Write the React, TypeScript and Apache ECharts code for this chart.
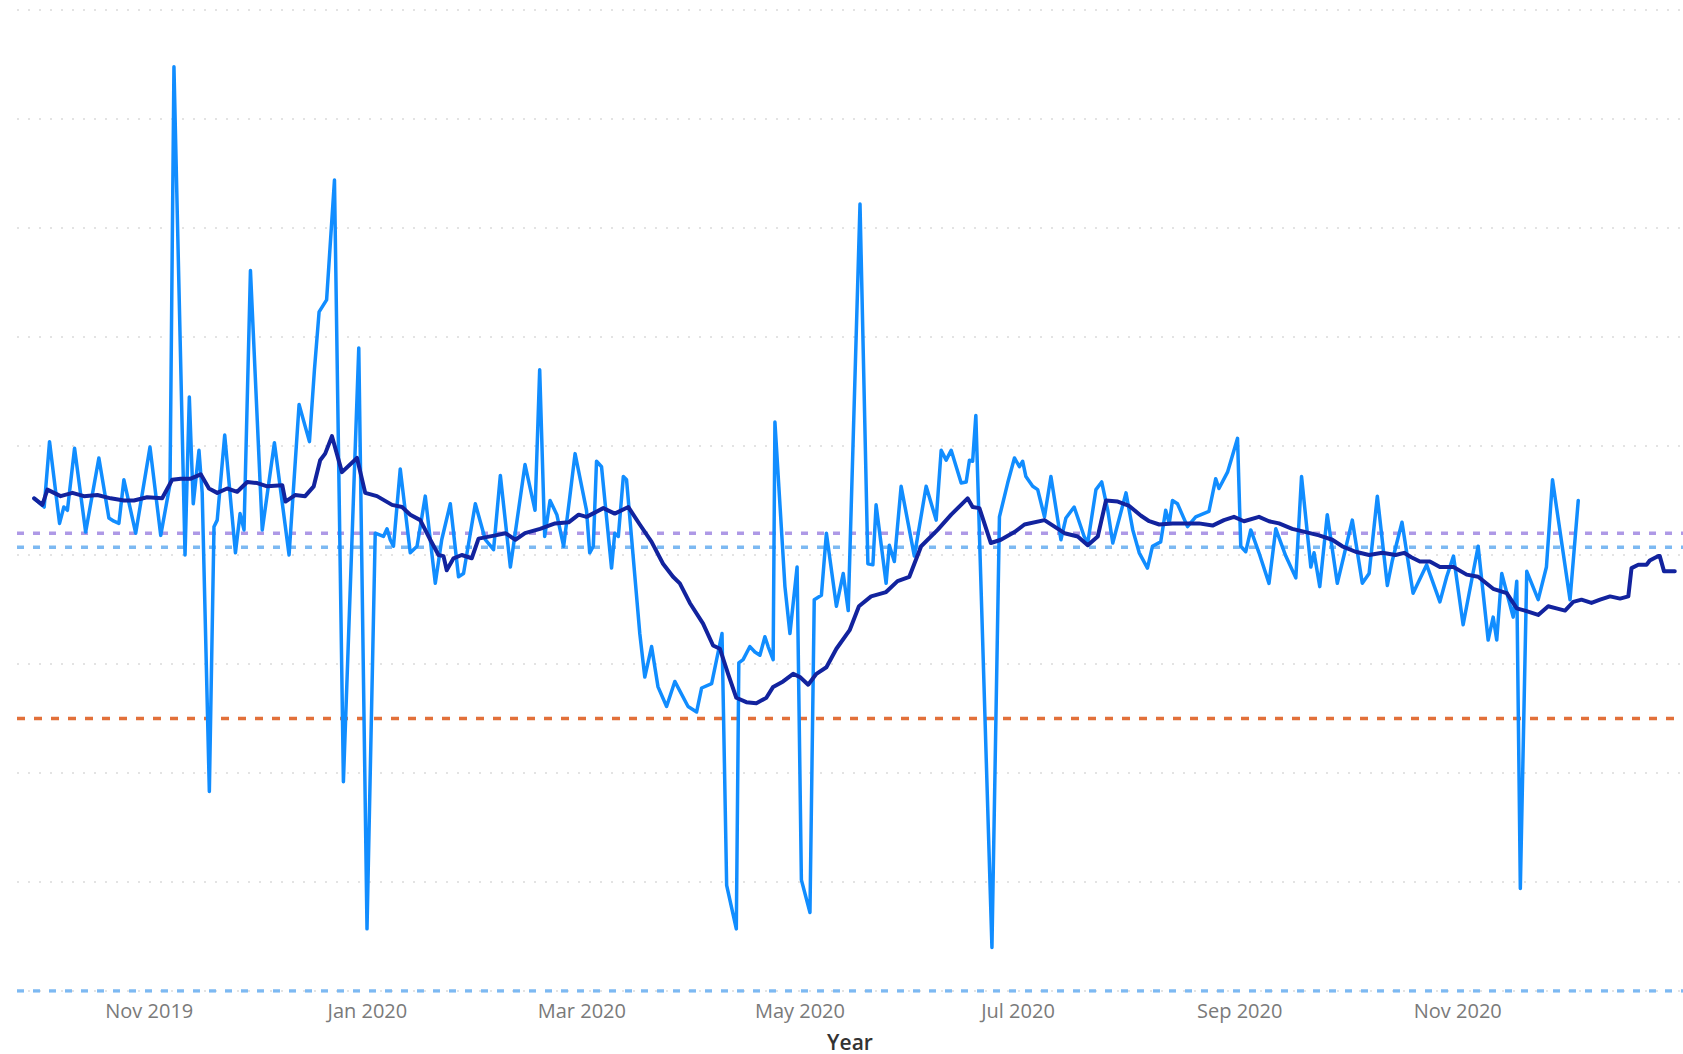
import React, { useEffect, useRef } from 'react';
import * as echarts from 'echarts';

// Day offsets are counted from 1 Oct 2019
const BASE_YEAR = 2019;
const BASE_MONTH = 9; // October (0-based)
const BASE_DAY = 1;

const axisStartDay = -6;
const axisEndDay = 460;

const tickDates = ['2019-11-01', '2020-01-01', '2020-03-01', '2020-05-01', '2020-07-01', '2020-09-01', '2020-11-01'];
const monthNames = ['Jan', 'Feb', 'Mar', 'Apr', 'May', 'Jun', 'Jul', 'Aug', 'Sep', 'Oct', 'Nov', 'Dec'];

const yMin = 0;
const yMax = 90;
const yStep = 10;

// Reference lines: values
const refLineValues = [42.0, 40.7, 25.0, 0];

// Daily series (light blue)
const dailyDays = [
  -1.2, 1.6, 3.1, 5.9, 7.1, 8.1, 10.1, 13.2, 16.9, 19.7, 21.1, 22.5, 23.9, 27.2, 31.2, 34.2, 36.8, 37.9, 41.0, 42.2,
  43.3, 44.9, 45.8, 47.8, 49.1, 50.0, 52.1, 55.1, 56.4, 57.5, 59.3, 62.6, 66.0, 70.1, 72.9, 75.8, 77.2, 78.5, 80.6, 82.8,
  85.3, 89.6, 91.9, 94.2, 96.5, 97.5, 98.4, 99.3, 101.2, 104.0, 105.9, 108.2, 111.0, 112.8, 115.2, 117.5, 118.9, 122.2, 125.0, 127.3,
  129.2, 132.0, 136.1, 138.9, 140.2, 141.6, 143.1, 145.0, 146.9, 148.5, 150.1, 153.3, 154.2, 155.2, 156.1, 157.5, 160.3, 161.2, 162.2, 163.6,
  164.5, 168.2, 169.6, 171.5, 173.3, 175.7, 178.0, 181.7, 184.1, 185.5, 188.3, 191.2, 192.5, 195.2, 195.9, 197.1, 199.0, 200.4, 201.8, 203.2,
  204.1, 205.5, 206.0, 208.8, 210.2, 212.2, 213.4, 215.8, 217.0, 219.0, 220.4, 223.2, 225.1, 226.5, 229.8, 232.0, 233.4, 234.3, 237.1, 238.0,
  239.4, 241.3, 245.0, 248.3, 251.1, 252.5, 253.9, 255.3, 258.1, 259.5, 260.4, 261.3, 262.2, 266.7, 268.8, 271.1, 273.0, 274.4, 275.3, 276.2,
  278.1, 279.5, 281.4, 283.2, 286.0, 287.4, 289.7, 292.5, 293.5, 295.8, 297.4, 299.1, 300.5, 304.2, 306.1, 307.9, 310.2, 311.6, 313.9, 315.3,
  316.3, 317.2, 318.6, 321.4, 323.7, 327.4, 329.3, 330.2, 332.6, 335.4, 336.3, 337.7, 339.1, 341.4, 344.2, 346.1, 348.9, 351.7, 353.3, 355.9,
  356.8, 358.4, 360.5, 363.3, 365.2, 367.5, 370.3, 372.2, 374.5, 377.3, 378.7, 381.4, 384.5, 388.3, 392.0, 393.9, 395.8, 398.5, 402.7, 405.5,
  406.9, 407.9, 409.3, 412.5, 413.5, 414.5, 416.3, 419.5, 421.8, 423.5, 428.4, 430.7,
];
const dailyValues = [
  45.2, 44.4, 50.4, 42.9, 44.4, 44.1, 49.8, 42.1, 48.9, 43.4, 43.1, 42.9, 46.9, 42.0, 49.9, 41.8, 46.5, 84.8, 40.0, 54.5,
  44.7, 49.6, 45.7, 18.3, 42.6, 43.2, 51.0, 40.2, 43.8, 42.3, 66.1, 42.3, 50.3, 40.0, 53.8, 50.4, 57.0, 62.3, 63.4, 74.4,
  19.2, 59.0, 5.7, 42.0, 41.7, 42.4, 41.4, 40.8, 47.9, 40.2, 40.8, 45.4, 37.4, 41.4, 44.7, 38.0, 38.3, 44.7, 41.4, 40.5,
  47.3, 38.9, 48.3, 44.1, 57.0, 41.7, 45.0, 43.7, 40.8, 45.0, 49.3, 44.1, 40.2, 40.8, 48.6, 48.1, 38.8, 42.0, 41.7, 47.2,
  46.9, 32.8, 28.8, 31.6, 27.9, 26.1, 28.4, 26.1, 25.6, 27.8, 28.2, 32.8, 9.7, 5.7, 30.1, 30.4, 31.6, 31.1, 30.8, 32.5,
  31.6, 30.4, 52.2, 37.1, 32.8, 38.9, 10.2, 7.2, 35.9, 36.3, 42.0, 35.3, 38.3, 34.9, 72.2, 39.2, 39.1, 44.6, 37.4, 40.9,
  39.4, 46.3, 39.9, 46.3, 43.2, 49.6, 48.7, 49.6, 46.6, 46.7, 48.7, 48.6, 52.8, 4.0, 43.5, 46.6, 48.9, 48.1, 48.6, 47.2,
  46.3, 46.0, 43.5, 47.2, 41.4, 43.4, 44.4, 41.7, 41.1, 46.0, 46.7, 44.1, 41.1, 45.7, 42.3, 40.2, 38.8, 40.8, 41.2, 44.1,
  42.9, 45.0, 44.7, 42.6, 43.5, 44.0, 47.0, 46.1, 47.6, 50.7, 40.8, 40.3, 42.3, 40.2, 37.4, 42.4, 39.9, 37.9, 47.2, 38.9,
  40.2, 37.1, 43.7, 37.4, 40.0, 43.2, 37.4, 38.3, 45.4, 37.2, 39.5, 43.0, 36.5, 39.1, 35.7, 38.0, 39.9, 33.6, 40.8, 32.2,
  34.3, 32.2, 38.3, 34.3, 37.6, 9.4, 38.5, 35.9, 38.9, 46.9, 35.9, 45.0,
];

// Rolling average series (dark blue)
const avgDays = [
  -1.2, 1.1, 2.5, 6.2, 9.5, 12.7, 16.5, 20.2, 23.9, 26.7, 30.4, 34.6, 37.4, 39.8, 42.6, 45.4, 47.7, 50.0, 52.8, 55.6,
  58.4, 61.2, 64.0, 68.2, 69.1, 71.8, 74.6, 77.0, 78.8, 80.2, 82.1, 84.9, 89.1, 91.4, 94.7, 98.9, 101.7, 104.0, 106.8, 109.6,
  111.9, 113.3, 114.2, 116.1, 118.4, 121.2, 123.1, 127.8, 130.6, 133.4, 136.1, 140.3, 144.5, 148.3, 151.1, 153.3, 158.0, 161.2, 165.0, 168.2,
  171.5, 174.7, 177.5, 179.4, 182.2, 185.9, 188.7, 190.6, 192.9, 195.2, 198.0, 200.8, 203.6, 205.5, 208.3, 211.1, 213.0, 215.3, 217.6, 220.4,
  223.2, 226.9, 229.5, 232.9, 237.1, 240.3, 243.6, 245.0, 246.9, 251.5, 255.3, 259.9, 261.3, 263.2, 266.4, 269.2, 273.0, 275.8, 281.4, 287.0,
  290.7, 293.5, 296.3, 298.6, 301.9, 305.1, 308.4, 310.7, 313.5, 317.2, 321.4, 324.6, 328.4, 331.6, 334.4, 337.2, 341.4, 344.2, 347.0, 350.7,
  354.5, 358.2, 361.9, 364.7, 368.4, 372.2, 375.9, 379.6, 382.0, 384.0, 386.4, 389.2, 392.0, 395.8, 399.5, 402.7, 406.9, 410.7, 413.5, 415.8,
  419.5, 422.3, 424.6, 427.0, 429.3, 431.6, 434.4, 436.8, 439.6, 442.4, 444.7, 445.6, 447.5, 449.8, 450.7, 453.1, 453.5, 454.7, 456.3, 457.7,
];
const avgValues = [
  45.2, 44.6, 46.0, 45.4, 45.7, 45.4, 45.5, 45.2, 45.0, 45.0, 45.3, 45.2, 46.9, 47.0, 47.0, 47.4, 46.1, 45.7, 46.1, 45.8,
  46.7, 46.6, 46.3, 46.4, 44.9, 45.5, 45.4, 46.3, 48.7, 49.3, 50.9, 47.6, 48.9, 45.7, 45.4, 44.6, 44.4, 43.7, 43.2, 41.4,
  40.0, 39.9, 38.6, 39.7, 40.0, 39.7, 41.5, 41.8, 42.0, 41.4, 42.0, 42.4, 42.9, 43.0, 43.7, 43.5, 44.3, 43.8, 44.4, 42.8,
  41.2, 39.2, 38.0, 37.4, 35.6, 33.7, 31.7, 31.4, 29.1, 26.9, 26.5, 26.4, 26.9, 27.9, 28.4, 29.1, 28.8, 28.1, 29.1, 29.7,
  31.4, 33.1, 35.3, 36.2, 36.6, 37.6, 38.0, 39.2, 40.8, 42.3, 43.7, 45.2, 44.4, 44.3, 41.1, 41.4, 42.1, 42.8, 43.2, 42.0,
  41.7, 40.9, 41.7, 45.0, 44.9, 44.5, 43.6, 43.1, 42.8, 42.9, 42.9, 42.9, 42.7, 43.2, 43.5, 43.1, 43.5, 43.1, 42.9, 42.4,
  42.1, 41.8, 41.4, 40.8, 40.3, 40.0, 40.2, 40.0, 40.2, 39.8, 39.4, 39.4, 38.9, 38.9, 38.2, 38.0, 36.9, 36.5, 35.1, 34.9,
  34.5, 35.3, 35.1, 34.9, 35.7, 35.9, 35.6, 35.9, 36.2, 36.0, 36.2, 38.8, 39.1, 39.1, 39.5, 39.9, 39.9, 38.5, 38.5, 38.5,
];

const DAY_MS = 86400000;
const FONT = '"Open Sans", "Noto Sans", sans-serif';

export default function App() {
  const ref = useRef<HTMLDivElement>(null);

  useEffect(() => {
    if (!ref.current) return;
    const chart = echarts.init(ref.current, undefined, { renderer: 'svg' });
    const base = new Date(BASE_YEAR, BASE_MONTH, BASE_DAY).getTime();
    const toTime = (d: number) => base + d * DAY_MS;
    const tickTimes = tickDates.map((s) => {
      const [y, m, d] = s.split('-').map(Number);
      return new Date(y, m - 1, d).getTime();
    });
    const xMin = toTime(axisStartDay);
    const xMax = toTime(axisEndDay);

    const refStyles = [
      { color: '#AE99E6', type: [7, 9] },
      { color: '#7DB9F2', type: [7, 9] },
      { color: '#E2703A', type: [8, 9] },
      { color: '#7DB9F2', type: [7, 9] },
    ];

    const refSeries = refLineValues.map((v, i) => ({
      type: 'line',
      silent: true,
      symbol: 'none',
      z: 1,
      data: [
        [xMin, v],
        [xMax, v],
      ],
      lineStyle: { color: refStyles[i].color, width: 3.5, type: refStyles[i].type },
    }));

    const option: any = {
      animation: false,
      backgroundColor: '#ffffff',
      grid: { left: 17, right: 0, top: 10, bottom: 63, containLabel: false, outerBoundsMode: 'none' },
      xAxis: {
        type: 'value',
        min: xMin,
        max: xMax,
        name: 'Year',
        nameLocation: 'middle',
        nameGap: 40,
        nameTextStyle: { fontSize: 21, fontWeight: 600, color: '#333333', fontFamily: FONT },
        axisLine: { show: false },
        axisTick: { show: false },
        splitLine: { show: false },
        axisLabel: {
          customValues: tickTimes,
          fontSize: 20,
          color: '#7a7a7a',
          margin: 9,
          fontFamily: FONT,
          hideOverlap: false,
          formatter: (val: number) => {
            const d = new Date(val);
            return monthNames[d.getMonth()] + ' ' + d.getFullYear();
          },
        },
      },
      yAxis: {
        type: 'value',
        min: yMin,
        max: yMax,
        interval: yStep,
        axisLabel: { show: false },
        axisLine: { show: false },
        axisTick: { show: false },
        splitLine: { show: true, lineStyle: { color: '#dadada', width: 1.5, type: [2, 9] } },
      },
      series: [
        ...refSeries,
        {
          type: 'line',
          name: 'Daily',
          showSymbol: false,
          symbol: 'none',
          z: 2,
          data: dailyDays.map((d, i) => [toTime(d), dailyValues[i]]),
          lineStyle: { color: '#118DFF', width: 3.5, join: 'round', cap: 'round' },
        },
        {
          type: 'line',
          name: 'Rolling average',
          showSymbol: false,
          symbol: 'none',
          z: 3,
          data: avgDays.map((d, i) => [toTime(d), avgValues[i]]),
          lineStyle: { color: '#12239E', width: 4, join: 'round', cap: 'round' },
        },
      ],
    };

    chart.setOption(option);
    return () => chart.dispose();
  }, []);

  return (
    <div
      ref={ref}
      style={{ position: 'fixed', left: 0, top: 0, width: 1683, height: 1054, background: '#ffffff' }}
    />
  );
}
